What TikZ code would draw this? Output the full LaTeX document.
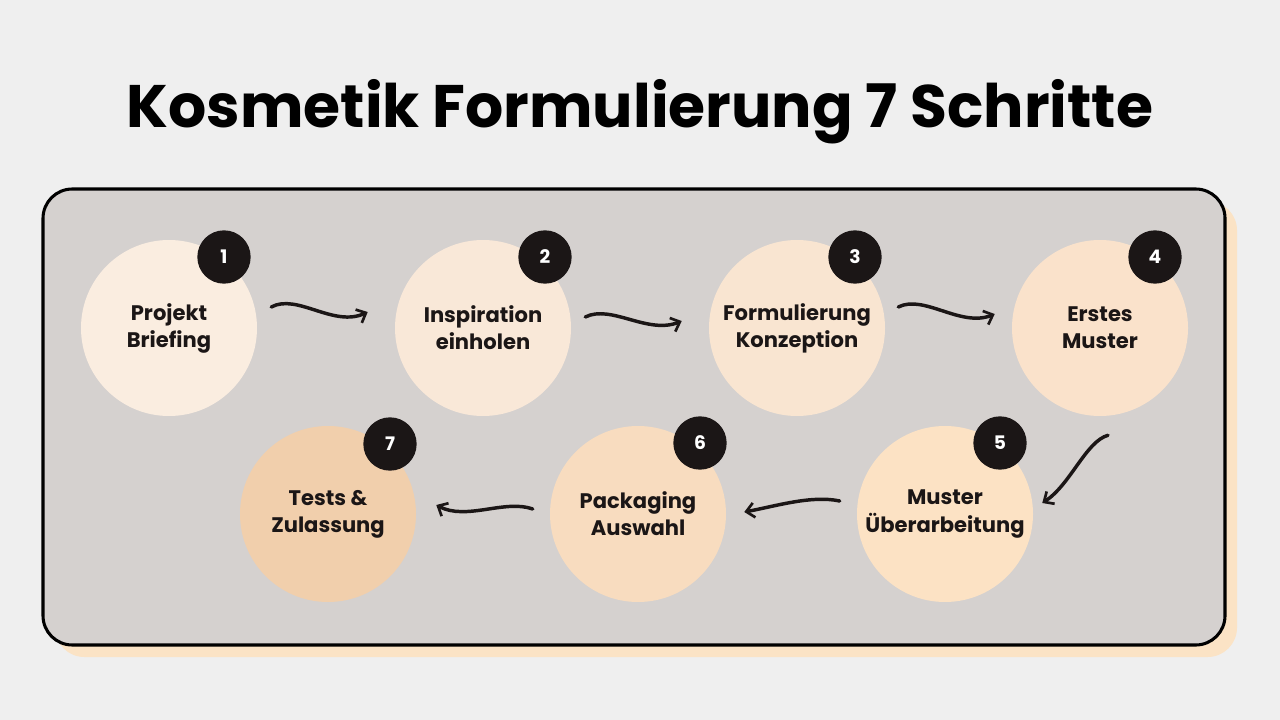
\documentclass[tikz,border=0pt]{standalone}
\usepackage{fontspec}
\setmainfont{Poppins}
\usetikzlibrary{calc,arrows.meta}

\definecolor{hintergrund}{HTML}{EFEFEF}
\definecolor{kasten}{HTML}{D5D1CF}
\definecolor{schatten}{HTML}{FBE3C5}
\definecolor{tinte}{HTML}{1B1616}
\definecolor{stufeA}{HTML}{FAEDE0}
\definecolor{stufeB}{HTML}{F9E8D8}
\definecolor{stufeC}{HTML}{F9E5D1}
\definecolor{stufeD}{HTML}{FAE2CB}
\definecolor{stufeE}{HTML}{FCE2C4}
\definecolor{stufeF}{HTML}{F8DCBF}
\definecolor{stufeG}{HTML}{F1CFAC}

\tikzset{
  schritt/.style={circle, minimum size=132pt, inner sep=0pt, align=center,
    text=tinte, font=\fontsize{15.8}{20.3}\selectfont\bfseries},
  nummer/.style={circle, fill=tinte, minimum size=40pt, inner sep=0pt,
    text=white, font=\fontsize{14}{16}\selectfont\bfseries},
  welle/.style={-{Straight Barb[length=6pt,width=11pt,line width=2pt]},
    line width=2.6pt, line cap=round, draw=tinte}
}

\begin{document}
\begin{tikzpicture}[x=0.75pt, y=-0.75pt]
        % --- Hintergrund und Rahmen ---
        \useasboundingbox[fill=hintergrund] (0,0) rectangle (1280,720);
        \fill[schatten, rounded corners=22pt] (55,201) rectangle (1237,657);
        \draw[line width=2.3pt, fill=kasten, rounded corners=22pt] (43,189) rectangle (1225,645);

        % --- Titel ---
        \node[anchor=base, text=black, font=\fontsize{45}{50}\selectfont\bfseries] (Titel) at (640,128) {Kosmetik Formulierung 7 Schritte};

        % --- Schritte, obere Reihe ---
        \node[schritt, fill=stufeA] (S1) at (169,328) {Projekt\\Briefing};
        \node[schritt, fill=stufeB] (S2) at (483,328) {Inspiration\\einholen};
        \node[schritt, fill=stufeC] (S3) at (797,328) {Formulierung\\Konzeption};
        \node[schritt, fill=stufeD] (S4) at (1100,328) {Erstes\\Muster};
        % --- Schritte, untere Reihe ---
        \node[schritt, fill=stufeE] (S5) at (945,514) {Muster\\Überarbeitung};
        \node[schritt, fill=stufeF] (S6) at (638,514) {Packaging\\Auswahl};
        \node[schritt, fill=stufeG] (S7) at (328,514) {Tests \&\\Zulassung};

        % --- Nummern ---
        \node[nummer] (N1) at ($(S1)+(55,-71)$) {1};
        \node[nummer] (N2) at ($(S2)+(62,-71)$) {2};
        \node[nummer] (N3) at ($(S3)+(58,-71)$) {3};
        \node[nummer] (N4) at ($(S4)+(55,-71)$) {4};
        \node[nummer] (N5) at ($(S5)+(55,-71)$) {5};
        \node[nummer] (N6) at ($(S6)+(62,-71)$) {6};
        \node[nummer] (N7) at ($(S7)+(62,-70)$) {7};

        % --- Geschwungene Pfeile ---
        \draw[welle] ($(S1.east)+(14,-21)$) .. controls +(26,-14) and +(-34,16) .. ($(S2.west)+(-27,-16)$);
        \draw[welle] ($(S2.east)+(14,-11)$) .. controls +(26,-13) and +(-34,14) .. ($(S3.west)+(-27,-7)$);
        \draw[welle] ($(S3.east)+(13,-21)$) .. controls +(26,-13) and +(-34,14) .. ($(S4.west)+(-17,-14)$);
        \draw[welle] ($(S4.south)+(8,19)$) .. controls +(-22,6) and +(28,-18) .. ($(S5.east)+(9,-11)$);
        \draw[welle] ($(S5.west)+(-17,-13)$) .. controls +(-28,-6) and +(32,-6) .. ($(S6.east)+(18,-2)$);
        \draw[welle] ($(S6.west)+(-17,-5)$) .. controls +(-28,-10) and +(30,16) .. ($(S7.east)+(20,-9)$);
\end{tikzpicture}
\end{document}
